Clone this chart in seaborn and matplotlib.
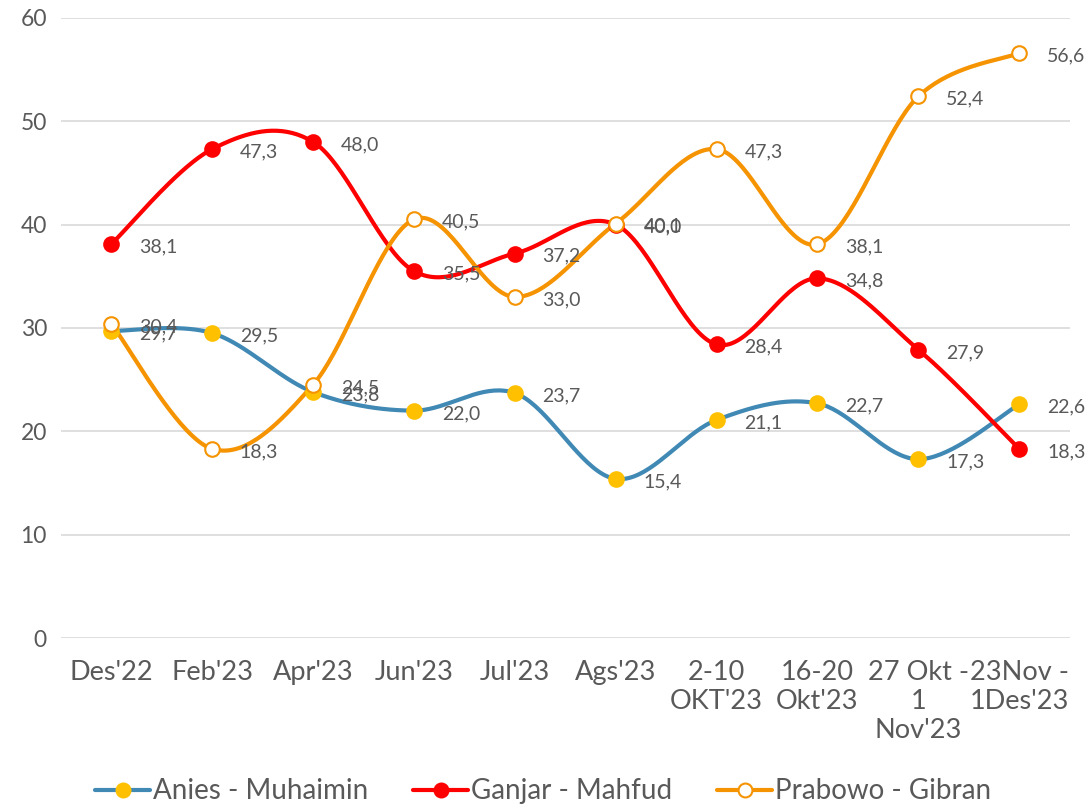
import numpy as np
import pandas as pd
import matplotlib
matplotlib.use("Agg")
import matplotlib.pyplot as plt
from matplotlib.lines import Line2D
import seaborn as sns

periods = ["Des'22", "Feb'23", "Apr'23", "Jun'23", "Jul'23", "Ags'23",
           "2-10\nOKT'23", "16-20\nOkt'23", "27 Okt -\n1\nNov'23", "23Nov -\n1Des'23"]
anies = [29.7, 29.5, 23.8, 22.0, 23.7, 15.4, 21.1, 22.7, 17.3, 22.6]
ganjar = [38.1, 47.3, 48.0, 35.5, 37.2, 40.0, 28.4, 34.8, 27.9, 18.3]
prabowo = [30.4, 18.3, 24.5, 40.5, 33.0, 40.1, 47.3, 38.1, 52.4, 56.6]

names = ["Anies - Muhaimin", "Ganjar - Mahfud", "Prabowo - Gibran"]
series = [anies, ganjar, prabowo]
line_colors = ["#4189b5", "#ff0000", "#f59300"]
marker_face = ["#ffc000", "#ff0000", "white"]
marker_edge = ["#ffc000", "#ff0000", "#f59300"]

gray = "#595959"
font = "Lato"


def smooth(y, n=40):
    # excel-like smoothed line (catmull-rom bezier through the points)
    y = np.asarray(y, float)
    x = np.arange(len(y), dtype=float)
    xs, ys = [], []
    for i in range(len(y) - 1):
        x0, y0 = (x[i - 1], y[i - 1]) if i > 0 else (x[i], y[i])
        x3, y3 = (x[i + 2], y[i + 2]) if i + 2 < len(y) else (x[i + 1], y[i + 1])
        p0 = np.array([x[i], y[i]])
        p3 = np.array([x[i + 1], y[i + 1]])
        c1 = p0 + (p3 - np.array([x0, y0])) / 6
        c2 = p3 - (np.array([x3, y3]) - p0) / 6
        t = np.linspace(0, 1, n)[:, None]
        pts = (1 - t) ** 3 * p0 + 3 * (1 - t) ** 2 * t * c1 + 3 * (1 - t) * t ** 2 * c2 + t ** 3 * p3
        xs.extend(pts[:, 0])
        ys.extend(pts[:, 1])
    return np.array(xs), np.array(ys)


sns.set_style("white")
plt.rcParams['font.family'] = [font, 'DejaVu Sans']

fig = plt.figure(figsize=(10.86, 8.1), dpi=100)
ax = fig.add_axes([0.056, 0.2123, 0.929, 0.7657])

for name, vals, lc, mf, me in zip(names, series, line_colors, marker_face, marker_edge):
    sx, sy = smooth(vals)
    curve = pd.DataFrame({"x": sx, "y": sy})
    sns.lineplot(data=curve, x="x", y="y", ax=ax, color=lc, linewidth=3,
                 sort=False, estimator=None, zorder=3)
    pts = pd.DataFrame({"x": np.arange(len(vals)), "y": vals})
    sns.scatterplot(data=pts, x="x", y="y", ax=ax, s=110, color=mf,
                    edgecolor=me, linewidth=1.5, zorder=4)
    for i, v in enumerate(vals):
        ax.annotate(f"{v:.1f}".replace(".", ","), (i, v), xytext=(20, -2),
                    textcoords="offset points", ha="left", va="center",
                    fontsize=14, color=gray, zorder=5)

ax.set_xlim(-0.5, len(periods) - 0.5)
ax.set_ylim(0, 60)
ax.set_yticks(range(0, 61, 10))
ax.set_xticks(range(len(periods)))
ax.set_xticklabels(periods, fontsize=19.5, color=gray, linespacing=1.2)
ax.tick_params(axis="y", labelsize=16.5, labelcolor=gray, length=0, pad=10)
ax.tick_params(axis="x", length=0, pad=16)
ax.yaxis.grid(True, color="#d9d9d9", linewidth=1.2)
ax.set_axisbelow(True)
ax.set_xlabel("")
ax.set_ylabel("")
for s in ax.spines.values():
    s.set_visible(False)

handles = [Line2D([0], [0], color=lc, linewidth=3, marker="o", markersize=10,
                  markerfacecolor=mf, markeredgecolor=me, markeredgewidth=1.5)
           for lc, mf, me in zip(line_colors, marker_face, marker_edge)]
fig.legend(handles, names, loc="lower center", bbox_to_anchor=(0.5, -0.024), ncol=3,
           frameon=False, fontsize=20, labelcolor=gray, handlelength=2.0,
           handletextpad=0.1, columnspacing=1.6)

fig.savefig("out.png", dpi=100)
